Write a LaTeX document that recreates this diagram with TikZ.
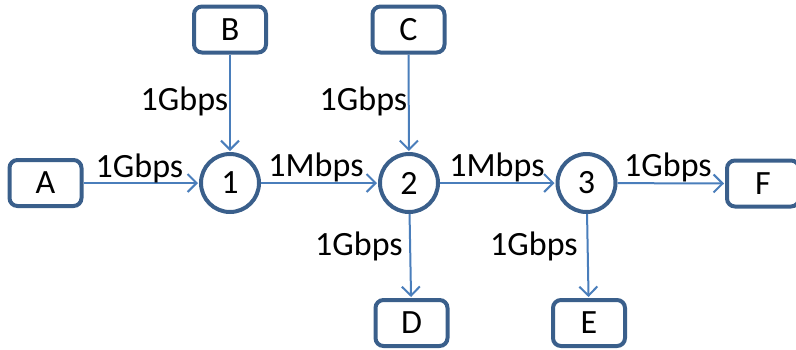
\documentclass[tikz,border=0pt]{standalone}
\usepackage{fontspec}
\setmainfont{Carlito}
\usetikzlibrary{arrows.meta}
\definecolor{boxblue}{HTML}{3A5F8B}
\definecolor{linkblue}{HTML}{4A7EBB}
\begin{document}
\begin{tikzpicture}[x=1pt,y=-1pt,
  host/.style={draw=boxblue, line width=4pt, rounded corners=8pt, minimum width=72pt, minimum height=46pt, inner sep=0pt, font=\fontsize{34}{40}\selectfont},
  router/.style={draw=boxblue, line width=4pt, circle, minimum size=58pt, inner sep=0pt, font=\fontsize{34}{40}\selectfont},
  link/.style={draw=linkblue, line width=2pt, shorten >=1pt, -{Straight Barb[length=9pt,width=18pt,line width=2pt]}},
  rate/.style={anchor=base, inner sep=0pt, font=\fontsize{34}{40}\selectfont}]
\useasboundingbox (0,0) rectangle (796,349);
\clip (0,0) rectangle (796,349);
% hosts
\node[host] (A) at (45.5,183) {A};
\node[host] (B) at (230,29.5) {B};
\node[host] (C) at (408.5,29.5) {C};
\node[host] (D) at (411.5,323) {D};
\node[host] (E) at (589,323) {E};
\node[host] (F) at (763,183.5) {F};
% routers
\node[router] (r1) at (230,183) {1};
\node[router] (r2) at (409,183) {2};
\node[router] (r3) at (586.5,183) {3};
% links
\draw[link] (A) -- (r1);
\draw[link] (B) -- (r1);
\draw[link] (r1) -- (r2);
\draw[link] (C) -- (r2);
\draw[link] (r2) -- (r3);
\draw[link] (r2) -- (D);
\draw[link] (r3) -- (E);
\draw[link] (r3) -- (F.west);
% rates
\node[rate] (lA) at (139.5,177) {1Gbps};
\node[rate] (lB) at (184.5,110) {1Gbps};
\node[rate] (lC) at (363.5,110) {1Gbps};
\node[rate] (l12) at (316,176) {1Mbps};
\node[rate] (l23) at (497,176) {1Mbps};
\node[rate] (lF) at (668,176) {1Gbps};
\node[rate] (lD) at (359,255) {1Gbps};
\node[rate] (lE) at (534,255) {1Gbps};
\end{tikzpicture}
\end{document}
